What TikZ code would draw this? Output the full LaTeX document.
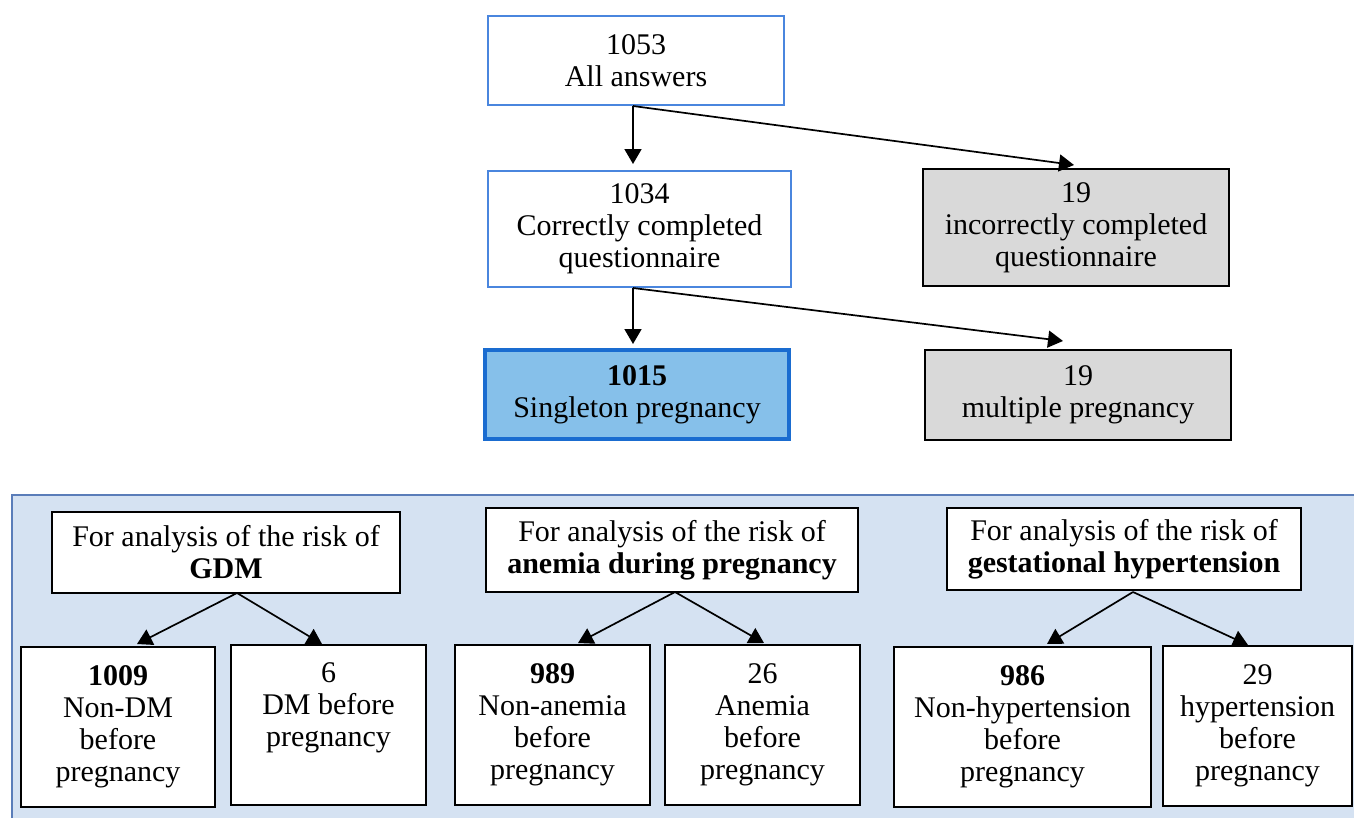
\documentclass[tikz,border=0pt]{standalone}
\usepackage{fontspec}
\setmainfont{Liberation Serif}
\usetikzlibrary{arrows.meta}
\definecolor{boxblue}{RGB}{74,134,222}
\definecolor{thickblue}{RGB}{26,108,208}
\definecolor{fillblue}{RGB}{134,192,234}
\definecolor{boxgray}{RGB}{217,217,217}
\definecolor{panelfill}{RGB}{213,226,242}
\definecolor{panelline}{RGB}{90,125,185}
\begin{document}
\begin{tikzpicture}[x=1pt,y=-1pt,
  base/.style={rectangle, inner sep=0pt, align=center, font=\fontsize{30}{32}\selectfont},
  bluebox/.style={base, draw=boxblue, line width=1.5pt, fill=white},
  graybox/.style={base, draw=black, line width=1.6pt, fill=boxgray},
  selbox/.style={base, draw=thickblue, line width=4pt, fill=fillblue},
  whitebox/.style={base, draw=black, line width=1.7pt, fill=white},
  arr/.style={-{Triangle[width=17pt,length=15pt]}, line width=1.7pt, black}]
\useasboundingbox (0,0) rectangle (1354,817);
% panel
\draw[panelline, line width=1.5pt, fill=panelfill] (12,495) rectangle (1370,830);
% top flow
\node[bluebox, minimum width=296pt, minimum height=89pt] (all) at (636,60.5) {1053\\All answers};
\node[bluebox, minimum width=303pt, minimum height=116pt] (corr) at (639.5,229) {1034\\Correctly completed\\questionnaire};
\node[graybox, minimum width=306pt, minimum height=117pt] (inc) at (1076,227.5) {19\\incorrectly completed\\questionnaire};
\node[selbox, minimum width=304pt, minimum height=89pt] (sing) at (637,394.5) {\textbf{1015}\\Singleton pregnancy};
\node[graybox, minimum width=306pt, minimum height=90pt] (mult) at (1078,395) {19\\multiple pregnancy};
\coordinate (aB) at (633,106);
\coordinate (bB) at (633,288);
\draw[arr] (aB) -- (633,164);
\draw[arr] (aB) -- (1074,165);
\draw[arr] (bB) -- (633,344);
\draw[arr] (bB) -- (1063,341);
% GDM
\node[whitebox, minimum width=348pt, minimum height=81pt] (gdm) at (226,552.5) {For analysis of the risk of\\\textbf{GDM}};
\node[whitebox, minimum width=194pt, minimum height=160pt] (nondm) at (118,727) {\textbf{1009}\\Non-DM\\before\\pregnancy};
\node[whitebox, minimum width=195pt, minimum height=160pt] (dm) at (328.5,725) {6\\DM before\\pregnancy\\\strut};
\coordinate (g0) at (237,593);
\draw[arr] (g0) -- (137,644);
\draw[arr] (g0) -- (322,644);
% anemia
\node[whitebox, minimum width=372pt, minimum height=84pt] (anem) at (672,550) {For analysis of the risk of\\\textbf{anemia during pregnancy}};
\node[whitebox, minimum width=195pt, minimum height=160pt] (nonan) at (552.5,725) {\textbf{989}\\Non-anemia\\before\\pregnancy};
\node[whitebox, minimum width=195pt, minimum height=160pt] (an) at (762.5,725) {26\\Anemia\\before\\pregnancy};
\coordinate (a0) at (675,592);
\draw[arr] (a0) -- (578,643);
\draw[arr] (a0) -- (764,643);
% hypertension
\node[whitebox, minimum width=354pt, minimum height=82pt] (hyp) at (1124,549) {For analysis of the risk of\\\textbf{gestational hypertension}};
\node[whitebox, minimum width=257pt, minimum height=160pt] (nonhyp) at (1022.5,727) {\textbf{986}\\Non-hypertension\\before\\pregnancy};
\node[whitebox, minimum width=189pt, minimum height=160pt] (hy) at (1257.5,726) {29\\hypertension\\before\\pregnancy};
\coordinate (h0) at (1133,592);
\draw[arr] (h0) -- (1047,644);
\draw[arr] (h0) -- (1248,645);
\end{tikzpicture}
\end{document}
